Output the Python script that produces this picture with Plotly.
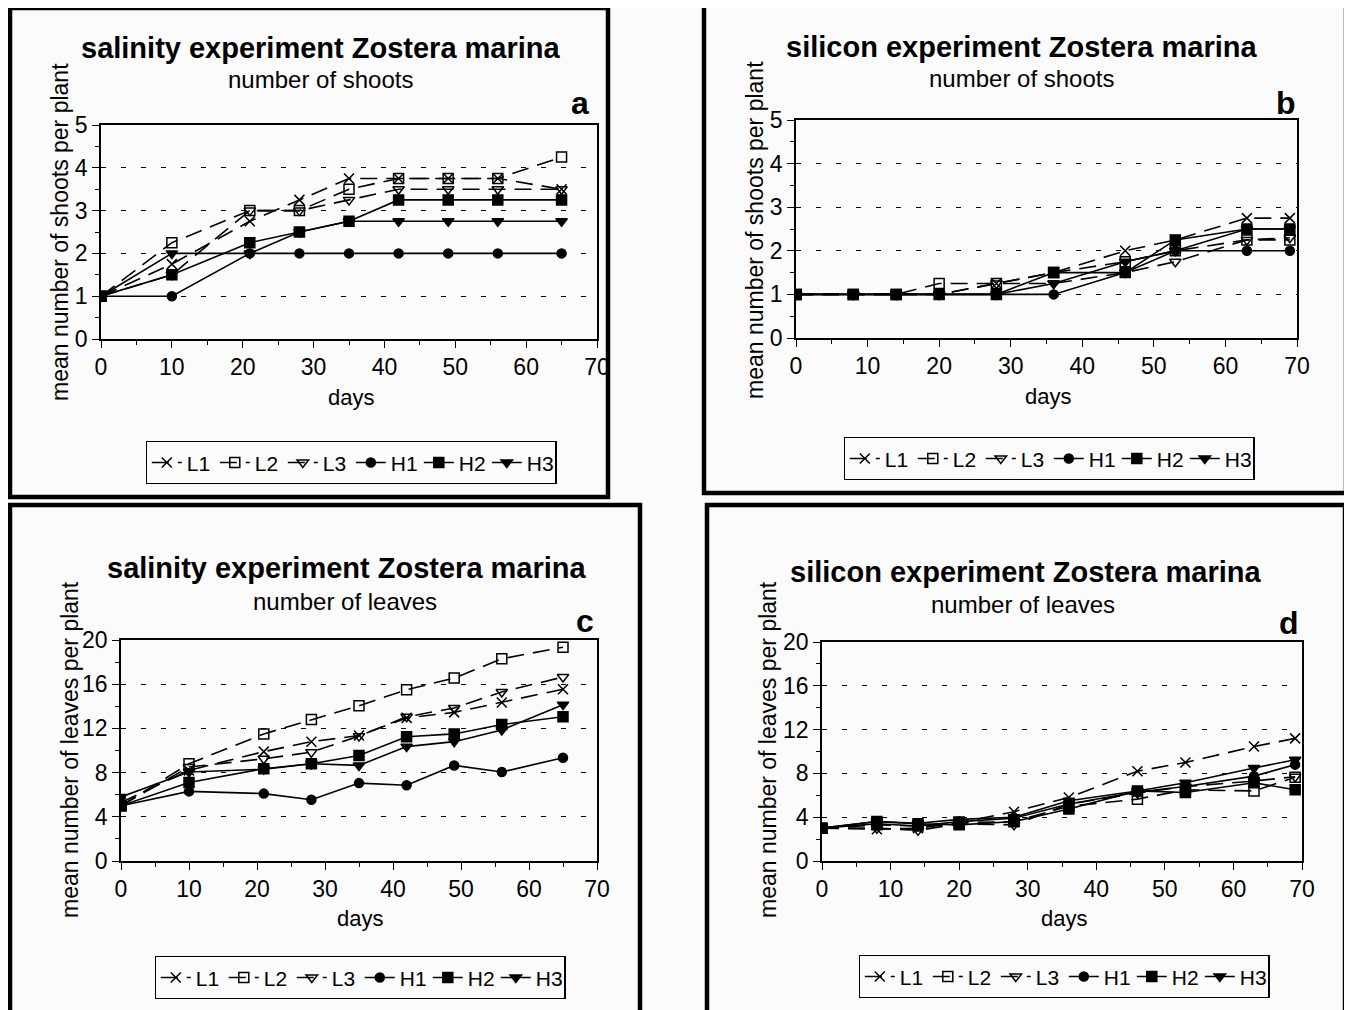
import plotly.graph_objects as go

W, H = 1352, 1010
OFF = 8  # page body margin of the browser

# ---------------- data ----------------
series_names = ["L1", "L2", "L3", "H1", "H2", "H3"]

days_salinity = [0, 10, 21, 28, 35, 42, 49, 56, 65]
days_silicon = [0, 8, 14, 20, 28, 36, 46, 53, 63, 69]

# a: salinity, number of shoots
a_L1 = [1, 1.75, 2.75, 3.25, 3.75, 3.75, 3.75, 3.75, 3.5]
a_L2 = [1, 2.25, 3.0, 3.0, 3.5, 3.75, 3.75, 3.75, 4.25]
a_L3 = [1, 1.5, 3.0, 3.0, 3.25, 3.5, 3.5, 3.5, 3.5]
a_H1 = [1, 1, 2, 2, 2, 2, 2, 2, 2]
a_H2 = [1, 1.5, 2.25, 2.5, 2.75, 3.25, 3.25, 3.25, 3.25]
a_H3 = [1, 2, 2, 2.5, 2.75, 2.75, 2.75, 2.75, 2.75]

# b: silicon, number of shoots
b_L1 = [1, 1, 1, 1, 1.25, 1.5, 2.0, 2.25, 2.75, 2.75]
b_L2 = [1, 1, 1, 1.25, 1.25, 1.5, 1.75, 2.0, 2.25, 2.25]
b_L3 = [1, 1, 1, 1, 1.25, 1.25, 1.5, 1.75, 2.25, 2.3]
b_H1 = [1, 1, 1, 1, 1, 1, 1.5, 2.0, 2.0, 2.0]
b_H2 = [1, 1, 1, 1, 1, 1.5, 1.5, 2.25, 2.5, 2.5]
b_H3 = [1, 1, 1, 1, 1, 1.25, 1.75, 2.0, 2.5, 2.5]

# c: salinity, number of leaves
c_L1 = [5.3, 8.2, 9.9, 10.8, 11.35, 12.95, 13.45, 14.35, 15.55]
c_L2 = [5.0, 8.8, 11.5, 12.8, 14.05, 15.5, 16.55, 18.3, 19.35]
c_L3 = [5.0, 8.5, 9.25, 9.85, 11.3, 13.05, 13.85, 15.3, 16.65]
c_H1 = [5.0, 6.3, 6.1, 5.55, 7.05, 6.85, 8.65, 8.05, 9.35]
c_H2 = [5.0, 7.1, 8.35, 8.8, 9.55, 11.25, 11.5, 12.35, 13.05]
c_H3 = [5.8, 8.05, 8.3, 8.8, 8.65, 10.35, 10.8, 11.85, 14.15]

# d: silicon, number of leaves
d_L1 = [3.0, 2.9, 3.0, 3.5, 4.5, 5.8, 8.2, 9.0, 10.45, 11.2]
d_L2 = [3.0, 3.3, 3.2, 3.5, 3.6, 5.0, 5.65, 6.5, 6.4, 7.65]
d_L3 = [3.0, 3.0, 2.8, 3.4, 3.3, 5.2, 6.2, 6.8, 7.3, 7.7]
d_H1 = [3.0, 3.4, 3.2, 3.6, 3.9, 5.2, 6.3, 6.8, 7.75, 8.8]
d_H2 = [3.0, 3.6, 3.4, 3.3, 3.6, 4.75, 6.4, 6.25, 7.15, 6.5]
d_H3 = [3.0, 3.6, 3.45, 3.8, 4.0, 5.5, 6.4, 7.15, 8.5, 9.25]

titles = ["salinity experiment Zostera marina", "silicon experiment Zostera marina",
          "salinity experiment Zostera marina", "silicon experiment Zostera marina"]
subtitles = ["number of shoots", "number of shoots", "number of leaves", "number of leaves"]
ytitles = ["mean number of shoots per plant", "mean number of shoots per plant",
           "mean number of leaves per plant", "mean number of leaves per plant"]
letters = ["a", "b", "c", "d"]
x_ticks = [0, 10, 20, 30, 40, 50, 60, 70]
y_ticks_shoots = [0, 1, 2, 3, 4, 5]
y_ticks_leaves = [0, 4, 8, 12, 16, 20]

# ---------------- styles ----------------
FONT = "Liberation Sans, Arial, sans-serif"
LDASH = "17px,9px"
styles = {
    "L1": dict(symbol="x-thin-open", size=10, dash=LDASH),
    "L2": dict(symbol="square-open", size=10, dash=LDASH),
    "L3": dict(symbol="triangle-down-open", size=10, dash=LDASH),
    "H1": dict(symbol="circle", size=9, dash="solid"),
    "H2": dict(symbol="square", size=10, dash="solid"),
    "H3": dict(symbol="triangle-down", size=10, dash="solid"),
}

def px_x(p):
    return (p - OFF) / W

def px_y(p):
    return 1 - (p - OFF) / H

panels = [
    dict(days=days_salinity, data=[a_L1, a_L2, a_L3, a_H1, a_H2, a_H3], yt=y_ticks_shoots,
         dom_x=(101, 597), dom_y=(125, 339), box=(10, 8, 608, 497),
         title_xy=(321, 48), sub_xy=(320, 80), letter_xy=(580, 103),
         ytitle_xy=(60, 232), xtitle_xy=(351, 397), legend_xy=(351, 441)),
    dict(days=days_silicon, data=[b_L1, b_L2, b_L3, b_H1, b_H2, b_H3], yt=y_ticks_shoots,
         dom_x=(796, 1297), dom_y=(120, 338), box=(704, 5, 1346, 493),
         title_xy=(1021, 47), sub_xy=(1021, 78), letter_xy=(1286, 103),
         ytitle_xy=(755, 230), xtitle_xy=(1048, 396), legend_xy=(1049, 437)),
    dict(days=days_salinity, data=[c_L1, c_L2, c_L3, c_H1, c_H2, c_H3], yt=y_ticks_leaves,
         dom_x=(121, 597), dom_y=(640, 861), box=(10, 505, 640, 1016),
         title_xy=(347, 568), sub_xy=(345, 601), letter_xy=(585, 621),
         ytitle_xy=(70, 750), xtitle_xy=(360, 918), legend_xy=(360, 956)),
    dict(days=days_silicon, data=[d_L1, d_L2, d_L3, d_H1, d_H2, d_H3], yt=y_ticks_leaves,
         dom_x=(822, 1302), dom_y=(642, 861), box=(707, 505, 1345, 1016),
         title_xy=(1025, 572), sub_xy=(1023, 604), letter_xy=(1289, 623),
         ytitle_xy=(768, 750), xtitle_xy=(1064, 918), legend_xy=(1064, 955)),
]

fig = go.Figure()
annotations = []
shapes = []
layout_extra = {}

for i, p in enumerate(panels):
    k = "" if i == 0 else str(i + 1)
    xa, ya = "x" + k, "y" + k
    leg = "legend" + k
    for name, ys in zip(series_names, p["data"]):
        st = styles[name]
        fig.add_trace(go.Scatter(
            x=p["days"], y=ys, name=name, mode="lines+markers",
            xaxis=xa, yaxis=ya, legend=leg,
            line=dict(color="black", width=1.6, dash=st["dash"]),
            marker=dict(symbol=st["symbol"], size=st["size"], color="black",
                        line=dict(color="black", width=1.5)),
        ))
    yt = p["yt"]
    ystep = yt[1] - yt[0]
    layout_extra["xaxis" + k] = dict(
        domain=[px_x(p["dom_x"][0]), px_x(p["dom_x"][1])],
        anchor=ya, range=[0, 70], tickvals=x_ticks, ticks="outside", ticklen=7,
        tickwidth=1.3, tickcolor="black", showline=True, linecolor="black", linewidth=1.5,
        mirror=True, showgrid=False, zeroline=False,
        tickfont=dict(family=FONT, size=23, color="black"),
        minor=dict(dtick=5, ticks="outside", ticklen=4, tickcolor="black", showgrid=False),
    )
    layout_extra["yaxis" + k] = dict(
        domain=[px_y(p["dom_y"][1]), px_y(p["dom_y"][0])],
        anchor=xa, range=[yt[0], yt[-1]], tickvals=yt, ticks="outside", ticklen=7,
        tickwidth=1.3, tickcolor="black", showline=True, linecolor="black", linewidth=1.5,
        mirror=True, showgrid=True, gridcolor="black", gridwidth=1.4, griddash="5px,15px",
        zeroline=False, tickfont=dict(family=FONT, size=23, color="black"),
        minor=dict(dtick=ystep / 2, ticks="outside", ticklen=4, tickcolor="black", showgrid=False),
    )
    layout_extra[leg] = dict(
        x=px_x(p["legend_xy"][0]), y=px_y(p["legend_xy"][1]),
        xanchor="center", yanchor="top", orientation="h",
        bordercolor="black", borderwidth=1.3, bgcolor="rgba(0,0,0,0)",
        font=dict(family=FONT, size=21, color="black"),
        itemwidth=30, tracegroupgap=0, traceorder="normal", entrywidth=23,
    )
    # texts
    annotations.append(dict(text="<b>" + titles[i] + "</b>", x=px_x(p["title_xy"][0]), y=px_y(p["title_xy"][1]),
                            xref="paper", yref="paper", showarrow=False, xanchor="center", yanchor="middle",
                            font=dict(family=FONT, size=29, color="black")))
    annotations.append(dict(text=subtitles[i], x=px_x(p["sub_xy"][0]), y=px_y(p["sub_xy"][1]),
                            xref="paper", yref="paper", showarrow=False, xanchor="center", yanchor="middle",
                            font=dict(family=FONT, size=24, color="black")))
    annotations.append(dict(text="<b>" + letters[i] + "</b>", x=px_x(p["letter_xy"][0]), y=px_y(p["letter_xy"][1]),
                            xref="paper", yref="paper", showarrow=False, xanchor="center", yanchor="middle",
                            font=dict(family=FONT, size=32, color="black")))
    annotations.append(dict(text=ytitles[i], x=px_x(p["ytitle_xy"][0]), y=px_y(p["ytitle_xy"][1]),
                            xref="paper", yref="paper", showarrow=False, xanchor="center", yanchor="middle",
                            textangle=-90, font=dict(family=FONT, size=23, color="black")))
    annotations.append(dict(text="days", x=px_x(p["xtitle_xy"][0]), y=px_y(p["xtitle_xy"][1]),
                            xref="paper", yref="paper", showarrow=False, xanchor="center", yanchor="middle",
                            font=dict(family=FONT, size=22, color="black")))
    bx = p["box"]
    shapes.append(dict(type="rect", xref="paper", yref="paper",
                       x0=px_x(bx[0]), x1=px_x(bx[2]), y0=px_y(bx[3]), y1=px_y(bx[1]),
                       line=dict(color="black", width=4.5), fillcolor="rgba(0,0,0,0)", layer="above"))

fig.update_layout(
    width=W, height=H, margin=dict(l=0, r=0, t=0, b=0, autoexpand=False),
    paper_bgcolor="#fbfbfb", plot_bgcolor="rgba(0,0,0,0)",
    font=dict(family=FONT, size=20, color="black"),
    annotations=annotations, shapes=shapes, **layout_extra,
)

fig.write_html("out.html")
